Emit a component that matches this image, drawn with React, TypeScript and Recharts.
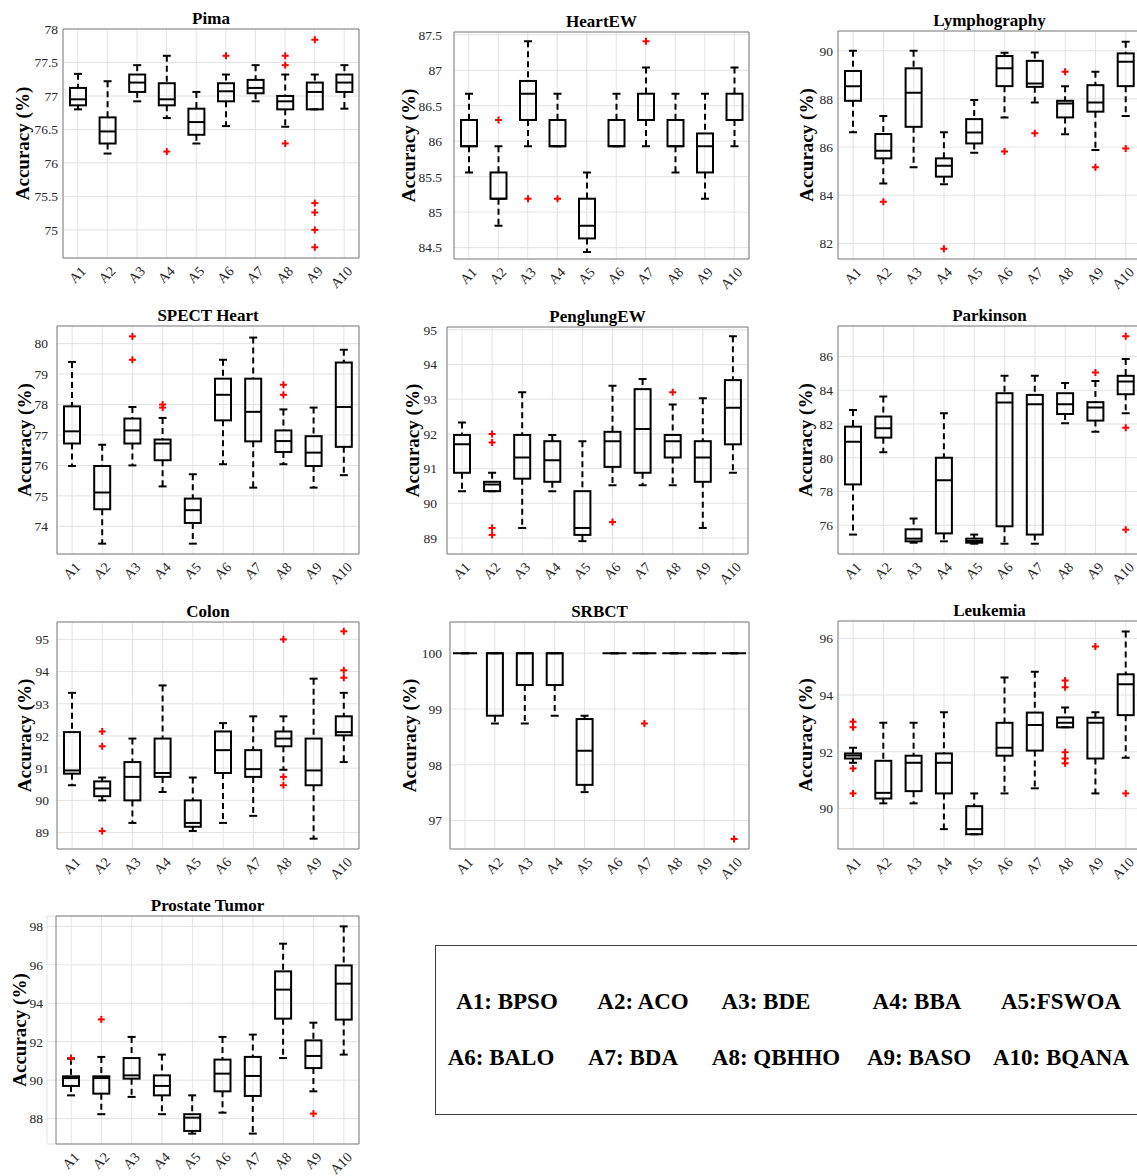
import React from 'react';
import { ComposedChart, Bar, XAxis, YAxis, CartesianGrid, ReferenceArea } from 'recharts';

const FONT = "'Liberation Serif', 'Times New Roman', serif";

const algorithms = ['A1', 'A2', 'A3', 'A4', 'A5', 'A6', 'A7', 'A8', 'A9', 'A10'];
const legendNames = [
  'A1: BPSO', 'A2: ACO', 'A3: BDE', 'A4: BBA', 'A5:FSWOA',
  'A6: BALO', 'A7: BDA', 'A8: QBHHO', 'A9: BASO', 'A10: BQANA',
];

// each row: [lower whisker, Q1, median, Q3, upper whisker] for A1..A10
const pimaStats = [
  [76.80, 76.86, 76.95, 77.12, 77.33],
  [76.14, 76.29, 76.47, 76.68, 77.22],
  [76.92, 77.06, 77.20, 77.32, 77.46],
  [76.67, 76.86, 76.95, 77.19, 77.60],
  [76.29, 76.42, 76.61, 76.81, 77.06],
  [76.55, 76.92, 77.07, 77.19, 77.32],
  [76.92, 77.04, 77.12, 77.24, 77.46],
  [76.54, 76.80, 76.92, 77.00, 77.32],
  [76.80, 76.80, 77.06, 77.20, 77.32],
  [76.81, 77.06, 77.20, 77.32, 77.46],
];
const pimaOutliers = [[], [], [], [76.17], [], [77.60], [], [77.60, 77.46, 76.29], [77.84, 75.40, 75.26, 75.0, 74.74], []];
const pimaTicks = [75, 75.5, 76, 76.5, 77, 77.5, 78];

const heartStats = [
  [85.56, 85.93, 85.93, 86.30, 86.67],
  [84.81, 85.19, 85.19, 85.56, 85.93],
  [85.93, 86.30, 86.67, 86.85, 87.41],
  [85.93, 85.93, 85.93, 86.30, 86.67],
  [84.44, 84.63, 84.81, 85.19, 85.56],
  [85.93, 85.93, 85.93, 86.30, 86.67],
  [85.93, 86.30, 86.30, 86.67, 87.04],
  [85.56, 85.93, 85.93, 86.30, 86.67],
  [85.19, 85.56, 85.93, 86.11, 86.67],
  [85.93, 86.30, 86.30, 86.67, 87.04],
];
const heartOutliers = [[], [86.30], [85.19], [85.19], [], [], [87.41], [], [], []];
const heartTicks = [84.5, 85, 85.5, 86, 86.5, 87, 87.5];

const lymphStats = [
  [86.61, 87.92, 88.53, 89.16, 90.0],
  [84.49, 85.53, 85.85, 86.54, 87.29],
  [85.16, 86.84, 88.26, 89.27, 90.0],
  [84.45, 84.77, 85.22, 85.53, 86.61],
  [85.76, 86.15, 86.60, 87.16, 87.95],
  [87.23, 88.53, 89.27, 89.78, 89.92],
  [87.85, 88.50, 88.64, 89.58, 89.93],
  [86.53, 87.23, 87.81, 87.92, 88.53],
  [85.88, 87.47, 87.85, 88.57, 89.13],
  [87.29, 88.53, 89.54, 89.89, 90.37],
];
const lymphOutliers = [[], [83.73], [], [81.78], [], [85.81], [86.57], [89.13], [85.16], [85.94]];
const lymphTicks = [82, 84, 86, 88, 90];

const spectStats = [
  [75.98, 76.72, 77.12, 77.94, 79.40],
  [73.43, 74.56, 75.11, 75.98, 76.68],
  [76.00, 76.72, 77.15, 77.54, 77.92],
  [75.31, 76.17, 76.72, 76.85, 77.56],
  [73.43, 74.11, 74.53, 74.91, 75.71],
  [76.04, 77.48, 78.32, 78.85, 79.47],
  [75.27, 76.79, 77.76, 78.85, 80.20],
  [76.04, 76.44, 76.80, 77.15, 77.84],
  [75.27, 75.98, 76.42, 76.96, 77.90],
  [75.68, 76.61, 77.92, 79.38, 79.80],
];
const spectOutliers = [[], [], [80.24, 79.47], [78.0, 77.9], [], [], [], [78.65, 78.32], [], []];
const spectTicks = [74, 75, 76, 77, 78, 79, 80];

const penglungStats = [
  [90.35, 90.88, 91.70, 91.97, 92.33],
  [90.35, 90.35, 90.54, 90.62, 90.88],
  [89.29, 90.71, 91.32, 91.97, 93.20],
  [90.35, 90.62, 91.24, 91.79, 91.97],
  [88.91, 89.09, 89.29, 90.35, 91.79],
  [90.52, 91.05, 91.79, 92.06, 93.39],
  [90.52, 90.88, 92.14, 93.29, 93.58],
  [90.52, 91.32, 91.79, 91.97, 92.85],
  [89.29, 90.62, 91.32, 91.79, 93.03],
  [90.88, 91.70, 92.75, 93.55, 94.81],
];
const penglungOutliers = [[], [92.0, 91.75, 89.29, 89.09], [], [], [], [89.46], [], [93.20], [], []];
const penglungTicks = [89, 90, 91, 92, 93, 94, 95];

const parkinsonStats = [
  [75.45, 78.42, 80.95, 81.84, 82.83],
  [80.32, 81.19, 81.74, 82.44, 83.62],
  [74.97, 75.05, 75.21, 75.76, 76.40],
  [75.05, 75.52, 78.67, 80.0, 82.63],
  [74.91, 74.97, 75.07, 75.21, 75.45],
  [74.91, 75.94, 83.27, 83.82, 84.85],
  [74.91, 75.45, 83.17, 83.72, 84.85],
  [82.04, 82.59, 83.17, 83.82, 84.42],
  [81.54, 82.20, 82.97, 83.29, 84.55],
  [82.63, 83.76, 84.51, 84.85, 85.84],
];
const parkinsonOutliers = [[], [], [], [], [], [], [], [], [85.05], [87.19, 81.78, 75.74]];
const parkinsonTicks = [76, 78, 80, 82, 84, 86];

const colonStats = [
  [90.47, 90.83, 90.93, 92.12, 93.34],
  [90.0, 90.13, 90.37, 90.59, 90.71],
  [89.30, 90.0, 90.73, 91.19, 91.92],
  [90.26, 90.73, 90.85, 91.92, 93.57],
  [89.05, 89.18, 89.30, 90.0, 90.71],
  [89.30, 90.85, 91.56, 92.14, 92.40],
  [89.52, 90.73, 90.97, 91.56, 92.61],
  [90.95, 91.68, 91.92, 92.14, 92.61],
  [88.81, 90.47, 90.93, 91.92, 93.78],
  [91.19, 92.02, 92.12, 92.61, 93.34],
];
const colonOutliers = [[], [92.14, 91.68, 89.05], [], [], [], [], [], [95.0, 90.73, 90.47], [], [95.25, 94.04, 93.81]];
const colonTicks = [89, 90, 91, 92, 93, 94, 95];

const srbctStats = [
  [100, 100, 100, 100, 100],
  [98.74, 98.88, 100, 100, 100],
  [98.74, 99.43, 100, 100, 100],
  [98.88, 99.43, 100, 100, 100],
  [97.51, 97.64, 98.25, 98.82, 98.88],
  [100, 100, 100, 100, 100],
  [100, 100, 100, 100, 100],
  [100, 100, 100, 100, 100],
  [100, 100, 100, 100, 100],
  [100, 100, 100, 100, 100],
];
const srbctOutliers = [[], [], [], [], [], [], [98.74], [], [], [96.67]];
const srbctTicks = [97, 98, 99, 100];

const leukemiaStats = [
  [91.61, 91.76, 91.87, 91.94, 92.14],
  [90.18, 90.35, 90.55, 91.68, 93.02],
  [90.18, 90.61, 91.61, 91.86, 93.02],
  [89.27, 90.53, 91.61, 91.94, 93.39],
  [89.09, 89.09, 89.27, 90.08, 90.53],
  [90.53, 91.86, 92.14, 93.02, 94.62],
  [90.71, 92.04, 92.94, 93.38, 94.82],
  [92.86, 92.86, 93.02, 93.21, 93.56],
  [90.53, 91.76, 93.02, 93.20, 93.39],
  [91.79, 93.29, 94.38, 94.73, 96.24],
];
const leukemiaOutliers = [[93.06, 92.86, 91.41, 90.53], [], [], [], [], [], [], [94.51, 94.27, 91.98, 91.76, 91.59], [95.71], [90.53]];
const leukemiaTicks = [90, 92, 94, 96];

const prostateStats = [
  [89.21, 89.70, 90.11, 90.20, 91.12],
  [88.23, 89.30, 90.11, 90.20, 91.21],
  [89.13, 90.08, 90.25, 91.15, 92.25],
  [88.23, 89.21, 89.70, 90.25, 91.33],
  [87.22, 87.36, 88.05, 88.23, 89.21],
  [88.31, 89.42, 90.34, 91.07, 92.25],
  [87.22, 89.18, 90.22, 91.21, 92.37],
  [91.15, 93.20, 94.71, 95.66, 97.10],
  [89.42, 90.63, 91.26, 92.07, 92.99],
  [91.33, 93.15, 95.02, 95.97, 98.0],
];
const prostateOutliers = [[91.15], [93.16], [], [], [], [], [], [], [88.26], []];
const prostateTicks = [88, 90, 92, 94, 96, 98];

// plot rectangle on the page: [left, top, right, bottom]
const panels = [
  { title: 'Pima', stats: pimaStats, outliers: pimaOutliers, ticks: pimaTicks, domain: [74.58, 78], plot: [63, 29, 359, 258], tickGap: 5, labelGap: 41 },
  { title: 'HeartEW', stats: heartStats, outliers: heartOutliers, ticks: heartTicks, domain: [84.34, 87.54], plot: [454, 32, 749, 259], tickGap: 12, labelGap: 46 },
  { title: 'Lymphography', stats: lymphStats, outliers: lymphOutliers, ticks: lymphTicks, domain: [81.35, 90.82], plot: [838, 31, 1141, 259], tickGap: 5, labelGap: 32 },
  { title: 'SPECT Heart', stats: spectStats, outliers: spectOutliers, ticks: spectTicks, domain: [73.09, 80.58], plot: [57, 326, 359, 554], tickGap: 9, labelGap: 33 },
  { title: 'PenglungEW', stats: penglungStats, outliers: penglungOutliers, ticks: penglungTicks, domain: [88.54, 95.08], plot: [447, 327, 748, 554], tickGap: 10, labelGap: 35 },
  { title: 'Parkinson', stats: parkinsonStats, outliers: parkinsonOutliers, ticks: parkinsonTicks, domain: [74.3, 87.8], plot: [838, 326, 1141, 554], tickGap: 5, labelGap: 33 },
  { title: 'Colon', stats: colonStats, outliers: colonOutliers, ticks: colonTicks, domain: [88.49, 95.54], plot: [57, 622, 359, 849], tickGap: 8, labelGap: 33 },
  { title: 'SRBCT', stats: srbctStats, outliers: srbctOutliers, ticks: srbctTicks, domain: [96.49, 100.56], plot: [450, 622, 749, 849], tickGap: 8, labelGap: 41 },
  { title: 'Leukemia', stats: leukemiaStats, outliers: leukemiaOutliers, ticks: leukemiaTicks, domain: [88.57, 96.61], plot: [838, 621, 1141, 849], tickGap: 5, labelGap: 33 },
  { title: 'Prostate Tumor', stats: prostateStats, outliers: prostateOutliers, ticks: prostateTicks, domain: [86.68, 98.54], plot: [47, 916, 359, 1144], tickGap: 4, labelGap: 28, padLeft: 9 },
];

const legendSpots = [
  [507, 1002], [643, 1002], [766, 1002], [917, 1002], [1061, 1002],
  [501, 1058], [633, 1058], [776, 1058], [919, 1058], [1061, 1058],
];

const YW = 62;
const MT = 30;
const MR = 4;
const XH = 40;

// the bar spans every value of the row, so positions inside it follow the y scale
const BoxShape = (props: any) => {
  const { x, y, width, height, payload } = props;
  const { lo, hi, stats, outliers } = payload;
  const py = (v: number) => (hi - lo > 1e-9 ? y + (height * (hi - v)) / (hi - lo) : y);
  const cx = x + width / 2;
  const [wLo, q1, med, q3, wHi] = stats.map(py);
  const cap = width / 4;
  const flat = Math.abs(q1 - q3) < 0.5;
  return (
    <g>
      <line x1={cx} x2={cx} y1={wHi} y2={q3} stroke="#000" strokeWidth={2} strokeDasharray="6 4" />
      <line x1={cx} x2={cx} y1={q1} y2={wLo} stroke="#000" strokeWidth={2} strokeDasharray="6 4" />
      <line x1={cx - cap} x2={cx + cap} y1={wHi} y2={wHi} stroke="#000" strokeWidth={2} />
      <line x1={cx - cap} x2={cx + cap} y1={wLo} y2={wLo} stroke="#000" strokeWidth={2} />
      {flat ? (
        <line x1={x - 4} x2={x + width + 4} y1={med} y2={med} stroke="#000" strokeWidth={2} />
      ) : (
        <>
          <rect x={x} y={q3} width={width} height={q1 - q3} fill="none" stroke="#000" strokeWidth={2} />
          <line x1={x} x2={x + width} y1={med} y2={med} stroke="#000" strokeWidth={2} />
        </>
      )}
      {outliers.map((v: number, i: number) => {
        const oy = py(v);
        return (
          <g key={i} stroke="#ff0000" strokeWidth={2}>
            <line x1={cx - 3.5} x2={cx + 3.5} y1={oy} y2={oy} />
            <line x1={cx} x2={cx} y1={oy - 3.5} y2={oy + 3.5} />
          </g>
        );
      })}
    </g>
  );
};

const AlgoTick = (props: any) => {
  const { x, y, payload } = props;
  const ax = x + 9;
  const ay = y + 14;
  return (
    <text
      x={ax}
      y={ay}
      transform={`rotate(-45, ${ax}, ${ay})`}
      textAnchor="end"
      fontSize={14}
      fontFamily={FONT}
      fill="#262626"
    >
      {payload.value}
    </text>
  );
};

const BoxPanel = ({ panel }: { panel: any }) => {
  const [L, T, R, B] = panel.plot;
  const rows = algorithms.map((name, i) => {
    const s = panel.stats[i];
    const o = panel.outliers[i];
    return { name, stats: s, outliers: o, lo: Math.min(s[0], ...o), hi: Math.max(s[4], ...o) };
  });
  return (
    <div style={{ position: 'absolute', left: L - YW, top: T - MT }}>
      <ComposedChart
        width={YW + (R - L) + MR}
        height={MT + (B - T) + XH}
        data={rows}
        margin={{ top: MT, right: MR, left: 0, bottom: 0 }}
      >
        <CartesianGrid stroke="#e3e3e3" />
        <XAxis
          dataKey="name"
          interval={0}
          tickSize={0}
          tickMargin={0}
          height={XH}
          axisLine={false}
          tick={<AlgoTick />}
          padding={{ left: panel.padLeft || 0, right: 0 }}
        />
        <YAxis
          type="number"
          domain={panel.domain}
          allowDataOverflow
          ticks={panel.ticks}
          interval={0}
          width={YW}
          tickSize={0}
          tickMargin={panel.tickGap}
          axisLine={false}
          tick={{ fill: '#262626', fontSize: 13.5, fontFamily: FONT }}
          label={{
            value: 'Accuracy (%)',
            angle: -90,
            position: 'insideLeft',
            offset: YW - panel.labelGap,
            fill: '#000',
            fontSize: 19,
            fontWeight: 'bold',
            fontFamily: FONT,
            style: { textAnchor: 'middle' },
          }}
        />
        <ReferenceArea
          y1={panel.domain[0]}
          y2={panel.domain[1]}
          fillOpacity={0}
          stroke="#808080"
          strokeWidth={1}
          ifOverflow="visible"
          label={{ value: panel.title, position: 'top', offset: 5, fill: '#000', fontSize: 17, fontWeight: 'bold', fontFamily: FONT }}
        />
        <Bar
          dataKey={(d: any) => [d.lo, d.hi]}
          barSize={16}
          shape={(p: any) => <BoxShape {...p} />}
          isAnimationActive={false}
        />
      </ComposedChart>
    </div>
  );
};

export default function App() {
  return (
    <div
      style={{
        position: 'absolute',
        left: 0,
        top: 0,
        width: 1137,
        height: 1176,
        overflow: 'hidden',
        background: '#fff',
        fontFamily: FONT,
      }}
    >
      {panels.map((p) => (
        <BoxPanel key={p.title} panel={p} />
      ))}
      <div
        style={{
          position: 'absolute',
          left: 435,
          top: 945,
          width: 740,
          height: 168,
          border: '1px solid #404040',
        }}
      />
      {legendNames.map((name, i) => (
        <div
          key={name}
          style={{
            position: 'absolute',
            left: legendSpots[i][0],
            top: legendSpots[i][1],
            transform: 'translate(-50%, -50%)',
            fontSize: 23,
            fontWeight: 'bold',
            fontFamily: FONT,
            whiteSpace: 'nowrap',
            color: '#000',
          }}
        >
          {name}
        </div>
      ))}
    </div>
  );
}
